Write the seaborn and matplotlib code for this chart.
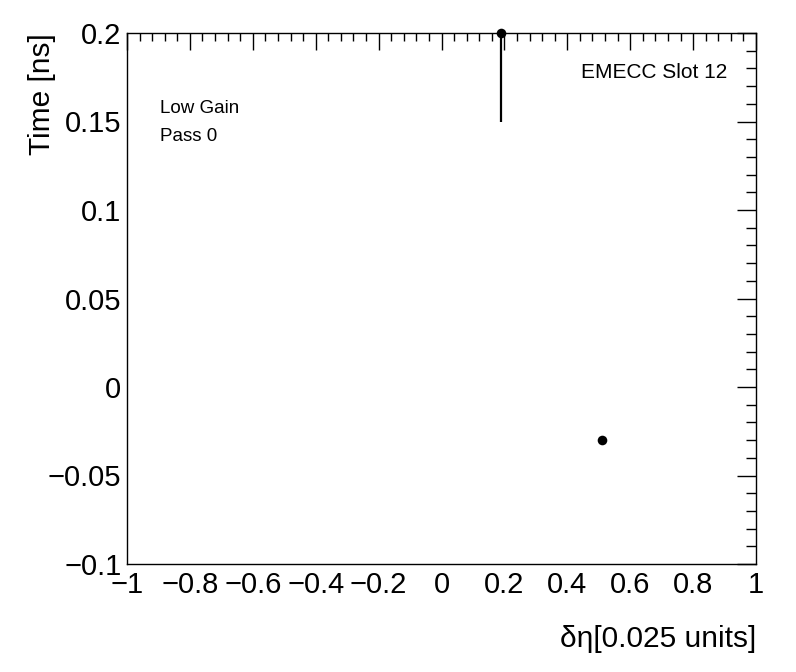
import matplotlib
matplotlib.use("Agg")
import matplotlib.pyplot as plt
from matplotlib.ticker import MultipleLocator
import seaborn as sns
import pandas as pd

# valeurs
deta = [0.19, 0.51]
temps = [0.20, -0.03]
err_temps = [0.05, 0.0]

sns.set_style("white")
plt.rcParams["font.family"] = ["Liberation Sans", "DejaVu Sans"]
plt.rcParams["text.color"] = "black"
plt.rcParams["axes.labelcolor"] = "black"
plt.rcParams["xtick.labelcolor"] = "black"
plt.rcParams["ytick.labelcolor"] = "black"

df = pd.DataFrame({"deta": deta, "temps": temps, "err": err_temps})

fig = plt.figure(figsize=(7.96, 6.72), dpi=100)
ax = fig.add_axes([127 / 796, 1 - 564 / 672, 629 / 796, 531 / 672])

ax.errorbar(df["deta"], df["temps"], yerr=df["err"], fmt="none",
            ecolor="black", elinewidth=1.6, capsize=0, zorder=2)
sns.scatterplot(data=df, x="deta", y="temps", ax=ax, color="black",
                s=48, edgecolor="black", linewidth=0, zorder=3, clip_on=False)

ax.set_xlim(-1, 1)
ax.set_ylim(-0.1, 0.2)
ax.xaxis.set_major_locator(MultipleLocator(0.2))
ax.xaxis.set_minor_locator(MultipleLocator(0.04))
ax.yaxis.set_major_locator(MultipleLocator(0.05))
ax.yaxis.set_minor_locator(MultipleLocator(0.01))


def fmt(v, p):
    v = round(v, 6)
    if v == 0:
        return "0"
    return f"{v:g}".replace("-", "\u2212")


ax.xaxis.set_major_formatter(fmt)
ax.yaxis.set_major_formatter(fmt)

ax.tick_params(axis="both", which="both", direction="in", top=True, right=True,
               width=1, color="black", labelsize=21)
ax.tick_params(axis="x", which="major", length=12, pad=5)
ax.tick_params(axis="x", which="minor", length=6)
ax.tick_params(axis="y", which="major", length=14, pad=4)
ax.tick_params(axis="y", which="minor", length=7)
for s in ax.spines.values():
    s.set_color("black")
    s.set_linewidth(1)

ax.set_xlabel("δη[0.025 units]", fontsize=21.5, loc="right")
ax.xaxis.set_label_coords(1.0, -0.115)
ax.set_ylabel("Time [ns]", fontsize=21.5, loc="top")
ax.yaxis.set_label_coords(-0.113, 1.0)

ax.text(0.955, 0.925, "EMECC Slot 12", transform=ax.transAxes,
        ha="right", va="center", fontsize=15)
ax.text(0.052, 0.857, "Low Gain", transform=ax.transAxes,
        ha="left", va="center", fontsize=13.5)
ax.text(0.052, 0.806, "Pass 0", transform=ax.transAxes,
        ha="left", va="center", fontsize=13.5)

fig.savefig("out.png", dpi=100)
plt.close(fig)
